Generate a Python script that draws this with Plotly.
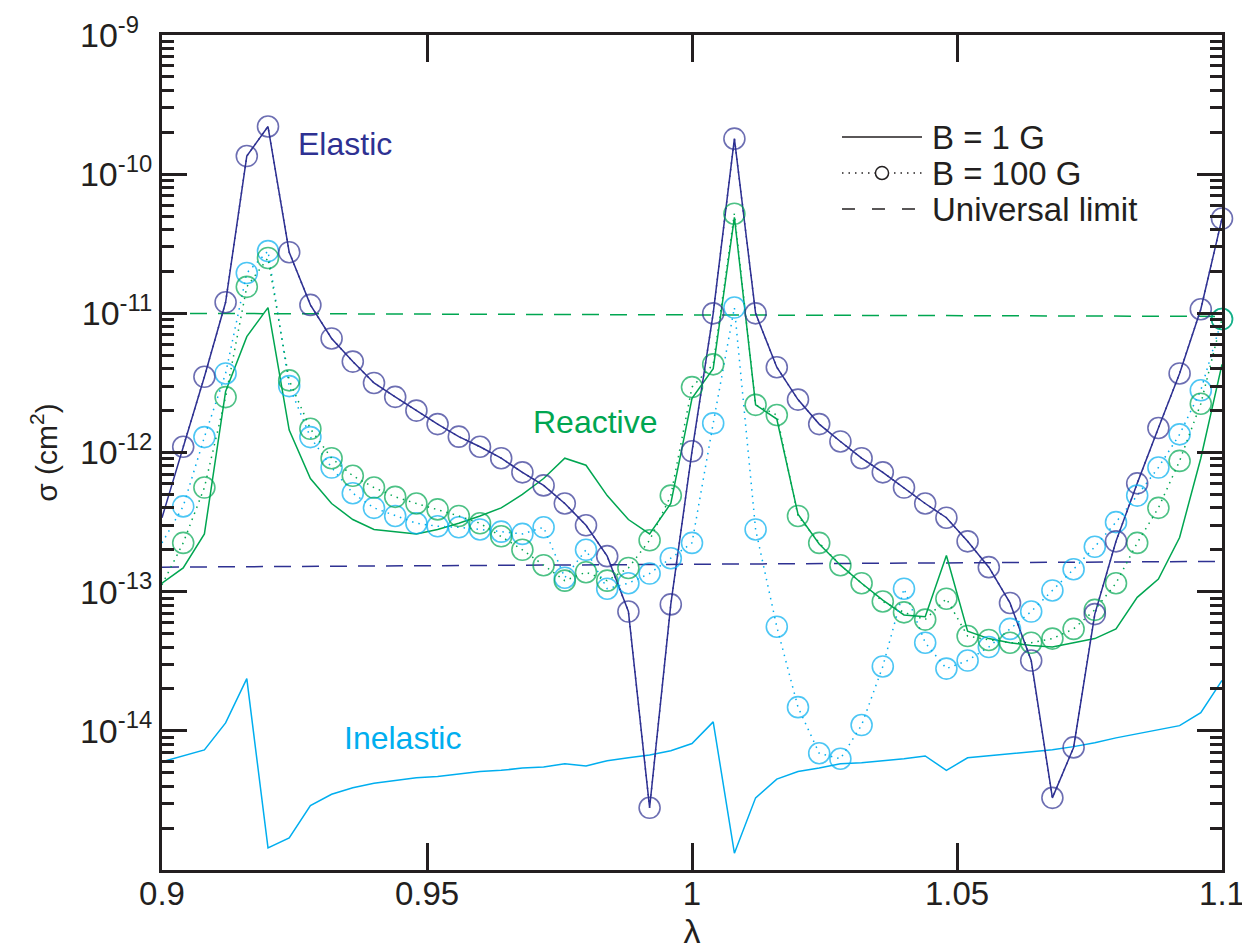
import plotly.graph_objects as go

# ---------------- data ----------------
lam = [0.900, 0.904, 0.908, 0.912, 0.916, 0.920, 0.924, 0.928, 0.932, 0.936,
       0.940, 0.944, 0.948, 0.952, 0.956, 0.960, 0.964, 0.968, 0.972, 0.976,
       0.980, 0.984, 0.988, 0.992, 0.996, 1.000, 1.004, 1.008, 1.012, 1.016,
       1.020, 1.024, 1.028, 1.032, 1.036, 1.040, 1.044, 1.048, 1.052, 1.056,
       1.060, 1.064, 1.068, 1.072, 1.076, 1.080, 1.084, 1.088, 1.092, 1.096,
       1.100]

elastic_1G = [3.4e-13, 1.1e-12, 3.5e-12, 1.2e-11, 1.35e-10, 2.2e-10, 2.75e-11, 1.15e-11, 6.6e-12, 4.5e-12,
              3.16e-12, 2.51e-12, 2.0e-12, 1.6e-12, 1.3e-12, 1.1e-12, 9.1e-13, 7.2e-13, 5.8e-13, 4.3e-13,
              3.0e-13, 1.8e-13, 7.2e-14, 2.8e-15, 8.1e-14, 1.02e-12, 1.0e-11, 1.8e-10, 1.0e-11, 4.1e-12,
              2.4e-12, 1.6e-12, 1.2e-12, 9.1e-13, 7.2e-13, 5.6e-13, 4.3e-13, 3.4e-13, 2.3e-13, 1.5e-13,
              8.3e-14, 3.2e-14, 3.3e-15, 7.6e-15, 6.9e-14, 2.3e-13, 6.0e-13, 1.5e-12, 3.7e-12, 1.07e-11,
              4.8e-11]

elastic_100G = [None, 1.1e-12, 3.5e-12, 1.2e-11, 1.35e-10, 2.2e-10, 2.75e-11, 1.15e-11, 6.6e-12, 4.5e-12,
                3.16e-12, 2.51e-12, 2.0e-12, 1.6e-12, 1.3e-12, 1.1e-12, 9.1e-13, 7.2e-13, 5.8e-13, 4.3e-13,
                3.0e-13, 1.8e-13, 7.2e-14, 2.8e-15, 8.1e-14, 1.02e-12, 1.0e-11, 1.8e-10, 1.0e-11, 4.1e-12,
                2.4e-12, 1.6e-12, 1.2e-12, 9.1e-13, 7.2e-13, 5.6e-13, 4.3e-13, 3.4e-13, 2.3e-13, 1.5e-13,
                8.3e-14, 3.2e-14, 3.3e-15, 7.6e-15, 6.9e-14, 2.3e-13, 6.0e-13, 1.5e-12, 3.7e-12, 1.07e-11,
                4.8e-11]

reactive_1G = [1.15e-13, 1.48e-13, 2.6e-13, 2.75e-12, 6.8e-12, 1.1e-11, 1.45e-12, 6.5e-13, 4.3e-13, 3.3e-13,
               2.8e-13, 2.7e-13, 2.6e-13, 2.8e-13, 3.1e-13, 3.5e-13, 4.0e-13, 5.0e-13, 6.5e-13, 9.1e-13,
               8.1e-13, 4.9e-13, 3.3e-13, 2.6e-13, 4.3e-13, 2.45e-12, 4.0e-12, 4.9e-11, 2.2e-12, 1.74e-12,
               3.6e-13, 2.2e-13, 1.55e-13, 1.15e-13, 8.7e-14, 6.8e-14, 6.6e-14, 1.82e-13, 5.2e-14, 4.6e-14,
               4.3e-14, 4.1e-14, 4.0e-14, 4.3e-14, 4.6e-14, 5.4e-14, 9.1e-14, 1.23e-13, 2.45e-13, 9.1e-13,
               4.3e-12]

reactive_100G = [1.12e-13, 2.24e-13, 5.6e-13, 2.5e-12, 1.55e-11, 2.5e-11, 3.3e-12, 1.48e-12, 9.1e-13, 6.8e-13,
                 5.6e-13, 4.8e-13, 4.3e-13, 3.9e-13, 3.5e-13, 3.1e-13, 2.5e-13, 2.0e-13, 1.55e-13, 1.2e-13,
                 1.38e-13, 1.2e-13, 1.48e-13, 2.34e-13, 4.9e-13, 2.95e-12, 4.3e-12, 5.2e-11, 2.2e-12, 1.86e-12,
                 3.5e-13, 2.24e-13, 1.55e-13, 1.15e-13, 8.5e-14, 7.1e-14, 6.3e-14, 8.9e-14, 4.8e-14, 4.5e-14,
                 4.3e-14, 4.3e-14, 4.6e-14, 5.4e-14, 7.4e-14, 1.15e-13, 2.24e-13, 4.0e-13, 8.7e-13, 2.24e-12,
                 9.1e-12]

inelastic_1G = [6.0e-15, 6.6e-15, 7.3e-15, 1.14e-14, 2.37e-14, 1.44e-15, 1.70e-15, 2.9e-15, 3.5e-15, 3.9e-15,
                4.2e-15, 4.4e-15, 4.6e-15, 4.7e-15, 4.9e-15, 5.1e-15, 5.2e-15, 5.4e-15, 5.5e-15, 5.8e-15,
                5.6e-15, 6.1e-15, 6.4e-15, 6.7e-15, 7.2e-15, 8.1e-15, 1.16e-14, 1.32e-15, 3.3e-15, 4.5e-15,
                5.1e-15, 5.4e-15, 5.8e-15, 5.9e-15, 6.1e-15, 6.3e-15, 6.6e-15, 5.2e-15, 6.4e-15, 6.6e-15,
                6.8e-15, 7.1e-15, 7.3e-15, 7.7e-15, 8.2e-15, 8.9e-15, 9.5e-15, 1.02e-14, 1.09e-14, 1.35e-14,
                2.3e-14]

inelastic_100G = [2.24e-13, 4.1e-13, 1.29e-12, 3.7e-12, 1.95e-11, 2.8e-11, 3.0e-12, 1.29e-12, 7.8e-13, 5.1e-13,
                  4.0e-13, 3.5e-13, 3.1e-13, 2.95e-13, 2.9e-13, 2.8e-13, 2.7e-13, 2.6e-13, 2.9e-13, 1.26e-13,
                  2.0e-13, 1.05e-13, 1.15e-13, 1.35e-13, 1.74e-13, 2.24e-13, 1.62e-12, 1.1e-11, 2.8e-13, 5.6e-14,
                  1.48e-14, 6.9e-15, 6.3e-15, 1.1e-14, 2.9e-14, 1.05e-13, 4.3e-14, 2.8e-14, 3.2e-14, 4.0e-14,
                  5.4e-14, 7.2e-14, 1.02e-13, 1.45e-13, 2.1e-13, 3.16e-13, 4.9e-13, 7.8e-13, 1.35e-12, 2.8e-12,
                  9.1e-12]

lam_ends = [0.9, 1.1]
ulimit_elastic = [1.5e-13, 1.65e-13]
ulimit_reactive = [1.0e-11, 9.5e-12]

x_tickvals = [0.9, 0.95, 1.0, 1.05, 1.1]
x_ticktext = ["0.9", "0.95", "1", "1.05", "1.1"]
y_exponents = [-14, -13, -12, -11, -10, -9]

legend_labels = ["B = 1 G", "B = 100 G", "Universal limit"]

# ---------------- styling ----------------
NAVY = "#2E3192"
GREEN = "#00A651"
CYAN = "#00AEEF"
INK = "#231F20"
FONT = "Liberation Sans, Arial, Helvetica, sans-serif"
DOT = "1.5px,5px"
DASH = "17px,11px"
MSIZE = 21

fig = go.Figure()

# universal limits
fig.add_trace(go.Scatter(x=lam_ends, y=ulimit_reactive, mode="lines",
                         line=dict(color=GREEN, width=1.5, dash=DASH), showlegend=False))
fig.add_trace(go.Scatter(x=lam_ends, y=ulimit_elastic, mode="lines",
                         line=dict(color=NAVY, width=1.5, dash=DASH), showlegend=False))

# B = 1 G solid lines
for ys, col in [(inelastic_1G, CYAN), (reactive_1G, GREEN), (elastic_1G, NAVY)]:
    fig.add_trace(go.Scatter(x=lam, y=ys, mode="lines",
                             line=dict(color=col, width=1.5), showlegend=False))

# B = 100 G dotted lines with open circles
msizes = [0] + [MSIZE] * (len(lam) - 1)
for ys, col in [(inelastic_100G, CYAN), (reactive_100G, GREEN), (elastic_100G, NAVY)]:
    fig.add_trace(go.Scatter(x=lam, y=ys, mode="lines+markers",
                             line=dict(color=col, width=1.5, dash=DOT),
                             marker=dict(symbol="circle-open", size=msizes, color=col,
                                         line=dict(width=1.6, color=col)),
                             cliponaxis=False, showlegend=False))

# curve labels
for txt, xl, yl, col in [("Elastic", 0.9345, -9.784, NAVY),
                         ("Reactive", 0.9817, -11.784, GREEN),
                         ("Inelastic", 0.9453, -14.05, CYAN)]:
    fig.add_annotation(x=xl, y=yl, text=txt, showarrow=False, xref="x", yref="y",
                       font=dict(size=32, color=col, family=FONT))

# hand-drawn legend (paper coordinates)
leg_x0, leg_x1, leg_tx = 0.6415, 0.7170, 0.7245
leg_rows = [0.8778, 0.8347, 0.7916]
leg_dash = ["solid", DOT, "13px,17px"]
for lab, yr, dsh in zip(legend_labels, leg_rows, leg_dash):
    fig.add_shape(type="line", xref="paper", yref="paper", x0=leg_x0, x1=leg_x1, y0=yr, y1=yr,
                  line=dict(color=INK, width=1.5, dash=dsh))
    fig.add_annotation(x=leg_tx, y=yr, xref="paper", yref="paper", text=lab, showarrow=False,
                       xanchor="left", yanchor="middle",
                       font=dict(size=33, color=INK, family=FONT))
cx = (leg_x0 + leg_x1) / 2
fig.add_shape(type="circle", xref="paper", yref="paper",
              x0=cx - 0.0062, x1=cx + 0.0062, y0=leg_rows[1] - 0.0078, y1=leg_rows[1] + 0.0078,
              line=dict(color=INK, width=1.5), fillcolor="white")

minor_vals = [m * 10.0 ** e for e in range(-15, -9) for m in range(2, 10)]
y_ticktext = ["10<sup>%d</sup>" % e if e <= -10 else "10<sup>%d\u00a0\u00a0</sup>" % e
              for e in y_exponents]

fig.update_layout(
    width=1242, height=951,
    margin=dict(l=162, r=20, t=35, b=81, autoexpand=False),
    paper_bgcolor="white", plot_bgcolor="white",
    font=dict(family=FONT, color=INK),
    showlegend=False,
    xaxis=dict(range=[0.9, 1.1], tickvals=x_tickvals, ticktext=x_ticktext,
               ticks="inside", ticklen=27, tickwidth=3, tickcolor=INK,
               showline=True, linewidth=3, linecolor=INK, mirror="ticks",
               showgrid=False, zeroline=False, ticklabeloverflow="allow", automargin=False,
               ticklabelstandoff=-8,
               tickfont=dict(size=33, family=FONT, color=INK),
               title=dict(text="λ", font=dict(size=34, family=FONT, color=INK), standoff=0)),
    yaxis=dict(type="log", range=[-15, -9],
               tickvals=[10.0 ** e for e in y_exponents],
               ticktext=y_ticktext,
               ticks="inside", ticklen=25, tickwidth=3, tickcolor=INK,
               minor=dict(tickvals=minor_vals, ticks="inside", ticklen=12, tickwidth=3,
                          tickcolor=INK, showgrid=False),
               showline=True, linewidth=3, linecolor=INK, mirror="ticks",
               showgrid=False, zeroline=False, ticklabeloverflow="allow", automargin=False,
               tickfont=dict(size=34, family=FONT, color=INK),
               title=dict(text="σ (cm<sup>2</sup>)", font=dict(size=30, family=FONT, color=INK),
                          standoff=14)),
)

fig.write_html("out.html")
